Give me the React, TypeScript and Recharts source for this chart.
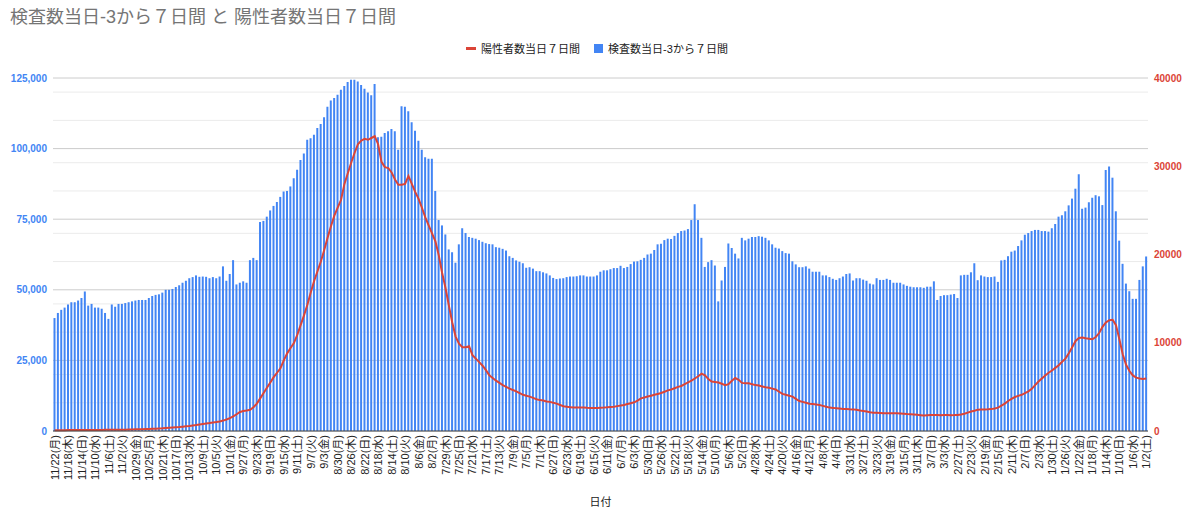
import React from 'react';
import { ComposedChart, Bar, Line, XAxis, YAxis, CartesianGrid, Label } from 'recharts';

const FONT = "'Liberation Sans', Arial, 'Noto Sans CJK JP', sans-serif";
const TITLE = '検査数当日-3から７日間 と 陽性者数当日７日間';
const TESTS_NAME = '検査数当日-3から７日間';
const POS_NAME = '陽性者数当日７日間';
const X_TITLE = '日付';

// categories: 2021/11/22 going back one day at a time to 2021/1/2 (325 days)
const START = { y: 2021, m: 11, d: 22 };
const DAY_COUNT = 325;
const WEEKDAYS = ['日', '月', '火', '水', '木', '金', '土'];

function buildDates(): string[] {
  const out: string[] = [];
  const base = Date.UTC(START.y, START.m - 1, START.d);
  for (let i = 0; i < DAY_COUNT; i++) {
    const dt = new Date(base - i * 86400000);
    out.push(`${dt.getUTCMonth() + 1}/${dt.getUTCDate()}(${WEEKDAYS[dt.getUTCDay()]})`);
  }
  return out;
}
const dates = buildDates();

// 検査数当日-3から７日間 (left axis), in display order (left to right)
const tests: number[] = [
  40000, 41800, 42900, 43700, 44800, 45600, 45600, 46200, 47100, 49400,
  44400, 45000, 43700, 43700, 43300, 41800, 39700, 44800, 44000, 45000,
  45000, 45300, 45600, 45900, 46200, 46400, 46400, 46400, 47100, 47800,
  48200, 48400, 49000, 50000, 50000, 50300, 51000, 51600, 52500, 53200,
  54100, 54500, 55100, 54600, 54700, 54600, 54100, 54500, 54100, 54700,
  58300, 53200, 55600, 60500, 51900, 52500, 53000, 52500, 60500, 61300,
  60500, 74000, 74400, 75900, 78100,
  79700, 81100, 82900, 84800, 85000, 86600, 89500, 92500, 96000, 98300,
  103100, 103700, 104900, 107300, 108700, 111100, 114800, 117000, 117900, 119100,
  120800, 122200, 123600, 124400, 124400, 123800, 122500, 121200, 119900, 118900,
  122900, 104000, 104200, 105500, 106100, 106900, 106100, 99600, 115000, 114800,
  113200, 109300, 106300, 102800, 99600, 96900, 96400, 96400, 85000, 74700,
  72800, 69600, 64300, 63300, 59600, 66100, 71800, 70100, 68700, 68400,
  68100, 67600, 67000, 66500, 66200,
  66100, 65100, 64900, 64500, 63900, 61900, 61300, 60400, 59900, 59400,
  57800, 58000, 57500, 56600, 56600, 56200, 55800, 55100, 54200, 53800,
  54000, 54100, 54500, 54700, 54700, 54800, 55100, 55100, 54700, 54700,
  54700, 55100, 56400, 56900, 56900, 57300, 57700, 57700, 58500, 57700,
  58100, 59100, 60000, 60100, 60600, 61300, 62500, 62800, 64100, 66100,
  66300, 67600, 68100, 68000, 69100, 70100, 70800, 71000, 71500, 74700,
  80300, 74700, 68400, 58100, 59800,
  60500, 58600, 45900, 53300, 58100, 66400, 64800, 62800, 61100, 68400,
  67500, 68100, 68700, 68700, 69000, 68800, 68400, 67500, 66100, 64900,
  64600, 63700, 63000, 62800, 60100, 59000, 58000, 58000, 58300, 57500,
  56400, 56400, 56400, 55100, 55100, 54500, 53900, 53500, 54100, 54700,
  55600, 55800, 53300, 54100, 54100, 53600, 53200, 52200, 51900, 54100,
  53500, 53500, 53900, 53500, 52500, 52500, 52500, 51900, 51400, 51100,
  50900, 50900, 50900, 50700, 51100,
  51100, 53000, 46400, 47800, 48100, 48100, 48300, 48500, 47100, 55100,
  55300, 55300, 56200, 59400, 53400, 55100, 54700, 54500, 54500, 54700,
  52800, 60400, 60600, 61900, 63500, 63900, 65500, 67500, 69500, 70100,
  70800, 71200, 71200, 70800, 70800, 70600, 71800, 73300, 75900, 76400,
  77800, 79900, 82300, 85800, 90900, 78700, 79100, 81000, 82600, 83500,
  83100, 80000, 92400, 93700, 89700, 77800, 67400, 59200, 52200, 49500,
  46800, 46800, 53500, 58300, 61800,
];

// 陽性者数当日７日間 (right axis), in display order (left to right)
const positives: number[] = [
  80, 85, 90, 95, 100, 100, 105, 110, 110, 115,
  115, 120, 120, 120, 125, 130, 130, 135, 140, 145,
  150, 155, 165, 175, 185, 195, 205, 215, 230, 245,
  260, 280, 300, 330, 360, 390, 420, 450, 490, 530,
  570, 620, 670, 730, 790, 850, 900, 960, 1010, 1080,
  1180, 1300, 1450, 1650, 1900, 2150, 2270, 2320, 2400, 2700,
  3100, 3700, 4300, 4900,
  5500, 6100, 6600, 7100, 8000, 8800,
  9400, 9960, 10900, 12000, 13100, 14300, 15700, 17000, 18100, 19200,
  20500, 21900, 23200, 24400, 25300, 26200, 28000, 29200, 30400, 31500,
  32500, 32900, 33100, 33000, 33200, 33400, 32500, 30500, 29900, 29800,
  29300, 28500, 27900, 27900, 28000, 28900, 28000, 27100, 26300, 25300,
  24200, 23300, 22400, 21500, 19900, 17900, 16200, 14200, 12300, 10700,
  9900, 9500, 9500, 9600, 8600, 8200, 7800, 7400, 6900, 6300,
  6000, 5700, 5450, 5200, 5000, 4800, 4650, 4500, 4300, 4100,
  4000, 3900, 3750, 3600, 3500, 3450, 3350, 3300, 3200, 3100,
  2950, 2800, 2750, 2700, 2650, 2650, 2650, 2650, 2630, 2620,
  2600, 2620, 2640, 2650, 2680, 2720, 2750, 2820, 2880, 2950,
  3050, 3150, 3250, 3450, 3700, 3800, 3900, 4000, 4100, 4200,
  4300, 4450, 4600, 4700, 4850, 5000, 5100, 5300, 5500, 5700,
  5950, 6200, 6500, 6300, 5900,
  5600, 5550, 5500, 5350, 5200,
  5300, 5700, 6000, 5800, 5450, 5400, 5400, 5300, 5200, 5150,
  5050, 4950, 4900, 4800, 4700, 4450, 4200, 4100, 4000, 3900,
  3650, 3400, 3300, 3200, 3100, 3050, 3000, 2950, 2850, 2750,
  2650, 2620, 2580, 2540, 2500, 2480, 2460, 2450, 2400, 2330,
  2270, 2200, 2130, 2080, 2060, 2040, 2020, 2000, 2000, 2000,
  2000, 1980, 1950, 1920, 1900, 1870, 1830, 1790, 1750, 1780,
  1800, 1820, 1800, 1780, 1800, 1810, 1790, 1800, 1820, 1880,
  1950, 2080, 2200, 2300, 2420, 2450, 2450, 2460, 2480, 2560,
  2650, 2880, 3100, 3400, 3650, 3850, 3980, 4100, 4280, 4500,
  4780, 5200, 5600, 5950, 6300, 6600, 6850, 7150, 7450, 7850,
  8200, 8800, 9500, 10200, 10550, 10600, 10500, 10450, 10400, 10650,
  11100, 11800, 12300, 12550, 12600, 12000, 10400, 8700, 7500, 6800,
  6300, 6050, 5950, 5900, 5950,
];

const leftTicks = [0, 25000, 50000, 75000, 100000, 125000];
const minorTicks = [5000, 10000, 15000, 20000, 30000, 35000, 40000, 45000, 55000, 60000, 65000, 70000, 80000, 85000, 90000, 95000, 105000, 110000, 115000, 120000];
const rightTicks = [0, 10000, 20000, 30000, 40000];

const BLUE = '#4285f4';
const RED = '#db4437';
const W = 1184;
const H = 506;

const DateTick = (props: any) => {
  const { x, y, payload } = props;
  return (
    <text
      x={x}
      y={y}
      transform={`rotate(-90, ${x}, ${y})`}
      textAnchor="end"
      dominantBaseline="central"
      fontSize={11}
      fill="#222"
      fontFamily={FONT}
    >
      {payload.value}
    </text>
  );
};

export default function App() {
  const data = dates.map((d, i) => ({ date: d, tests: tests[i], positives: positives[i] }));
  return (
    <div style={{ position: 'relative', width: W, height: H, fontFamily: FONT, background: '#fff' }}>
      <ComposedChart
        width={W}
        height={H}
        data={data}
        margin={{ top: 70, right: 0, bottom: 0, left: 0 }}
        barCategoryGap="15%"
      >
        <CartesianGrid yAxisId="left" vertical={false} horizontalValues={minorTicks} stroke="#ebebeb" />
        <CartesianGrid yAxisId="left" vertical={false} horizontalValues={leftTicks} stroke="#cccccc" />
        <XAxis
          dataKey="date"
          interval={3}
          tick={<DateTick />}
          tickLine={false}
          tickSize={0}
          tickMargin={4}
          axisLine={{ stroke: '#444' }}
          height={83}
        >
          <Label value={X_TITLE} position="insideBottom" offset={8} fontSize={11} fill="#222" fontFamily={FONT} />
        </XAxis>
        <YAxis
          yAxisId="left"
          orientation="left"
          domain={[0, 125000]}
          ticks={leftTicks}
          width={45}
          axisLine={false}
          tickLine={false}
          tickSize={0}
          tickMargin={6}
          tick={{ fill: BLUE, fontSize: 10, fontWeight: 'bold', fontFamily: FONT }}
          tickFormatter={(v: number) => v.toLocaleString('en-US')}
        />
        <YAxis
          yAxisId="right"
          orientation="right"
          domain={[0, 40000]}
          ticks={rightTicks}
          width={44}
          axisLine={false}
          tickLine={false}
          tickSize={0}
          tickMargin={6}
          tick={{ fill: RED, fontSize: 10, fontWeight: 'bold', fontFamily: FONT }}
        />
        <Bar yAxisId="left" dataKey="tests" name={TESTS_NAME} fill={BLUE} isAnimationActive={false} />
        <Line
          yAxisId="right"
          dataKey="positives"
          name={POS_NAME}
          type="linear"
          stroke={RED}
          strokeWidth={2}
          dot={false}
          activeDot={false}
          isAnimationActive={false}
        />
      </ComposedChart>
      <div
        style={{
          position: 'absolute', left: 2, top: -1, fontSize: 18, lineHeight: '20px',
          color: '#757575', whiteSpace: 'nowrap', fontFamily: FONT,
        }}
      >
        {TITLE}
      </div>
      <div
        style={{
          position: 'absolute', left: 0, top: 33, width: 1178, height: 14,
          display: 'flex', justifyContent: 'center', alignItems: 'center',
          fontSize: 11, color: '#222', fontFamily: FONT, whiteSpace: 'nowrap',
        }}
      >
        <span style={{ display: 'inline-block', width: 10, height: 3, background: RED, marginRight: 5 }} />
        <span style={{ marginRight: 14 }}>{POS_NAME}</span>
        <span style={{ display: 'inline-block', width: 9, height: 9, background: BLUE, marginRight: 5 }} />
        <span>{TESTS_NAME}</span>
      </div>
    </div>
  );
}
